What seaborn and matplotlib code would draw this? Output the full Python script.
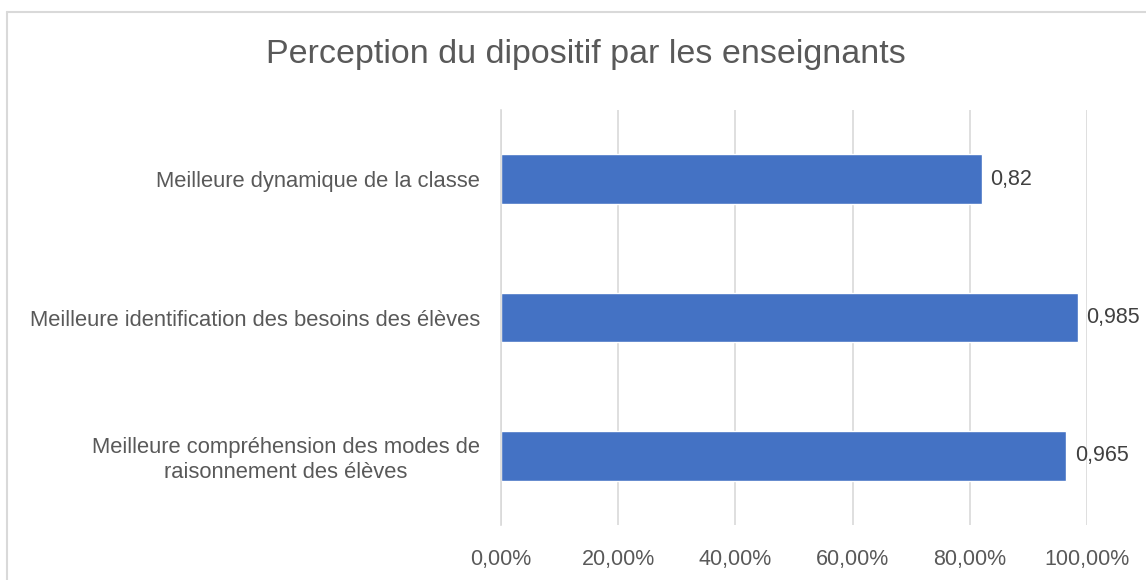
#!/usr/bin/env python3
"""
Perception du dispositif par les enseignants - horizontal bar chart
"""

import matplotlib
matplotlib.use("Agg")
import matplotlib.pyplot as plt
from matplotlib.lines import Line2D
from matplotlib.ticker import FuncFormatter, FixedLocator
import seaborn as sns
import pandas as pd

# Data
categories = [
    "Meilleure dynamique de la classe",
    "Meilleure identification des besoins des élèves",
    "Meilleure compréhension des modes de\nraisonnement des élèves",
]
values = [0.82, 0.985, 0.965]
value_labels = ["0,82", "0,985", "0,965"]
x_ticks = [0.0, 0.2, 0.4, 0.6, 0.8, 1.0]

TITLE = "Perception du dipositif par les enseignants"
BAR_COLOR = "#4472C4"
TEXT_COLOR = "#595959"
GRID_COLOR = "#D9D9D9"


def pct_fr(x, pos=None):
    """Format ticks like Excel in French: 20,00%"""
    return f"{x * 100:.2f}%".replace(".", ",")


def create_chart():
    sns.set_theme(style="white")
    plt.rcParams["font.family"] = ["Liberation Sans", "DejaVu Sans"]

    df = pd.DataFrame({"categorie": categories, "valeur": values})

    fig = plt.figure(figsize=(11.46, 5.8), dpi=100)
    ax = fig.add_axes([501 / 1146, 1 - 525 / 580, 586 / 1146, 415 / 580])

    sns.barplot(data=df, x="valeur", y="categorie", orient="h",
                color=BAR_COLOR, saturation=1, width=0.36, ax=ax)

    ax.set_xlim(0, 1)
    ax.set_ylim(2.5, -0.5)
    ax.set_xlabel("")
    ax.set_ylabel("")

    # vertical gridlines
    ax.set_xticks(x_ticks)
    ax.xaxis.set_major_formatter(FuncFormatter(pct_fr))
    ax.set_axisbelow(True)
    ax.grid(axis="x", color=GRID_COLOR, linewidth=1.2)
    ax.tick_params(axis="x", length=0, pad=17, labelsize=15.5, labelcolor=TEXT_COLOR)

    # category labels with small ticks between categories
    ax.tick_params(axis="y", which="major", length=0, pad=15, labelsize=15.8,
                   labelcolor=TEXT_COLOR)
    ax.yaxis.set_minor_locator(FixedLocator([-0.5, 0.5, 1.5, 2.5]))
    ax.tick_params(axis="y", which="minor", length=7, width=1.2, color=GRID_COLOR)
    for lbl in ax.get_yticklabels():
        lbl.set_multialignment("center")

    for side in ["top", "right", "bottom"]:
        ax.spines[side].set_visible(False)
    ax.spines["left"].set_color(GRID_COLOR)
    ax.spines["left"].set_linewidth(1.2)

    # value labels
    for i, (v, txt) in enumerate(zip(values, value_labels)):
        ax.annotate(txt, (v, i), xytext=(6, 0), textcoords="offset points",
                    va="center", ha="left", fontsize=15.5, color="#404040")

    fig.text(0.511, 1 - 55 / 580, TITLE, ha="center", va="center",
             fontsize=24.5, color=TEXT_COLOR)

    # chart area border (only left and top visible in the crop)
    fig.add_artist(Line2D([7 / 1146, 7 / 1146], [0, 1 - 12 / 580],
                          transform=fig.transFigure, color=GRID_COLOR, linewidth=1.5))
    fig.add_artist(Line2D([7 / 1146, 1], [1 - 12 / 580, 1 - 12 / 580],
                          transform=fig.transFigure, color=GRID_COLOR, linewidth=1.5))

    fig.savefig("out.png", dpi=100, facecolor="white")
    plt.close(fig)


if __name__ == "__main__":
    create_chart()
